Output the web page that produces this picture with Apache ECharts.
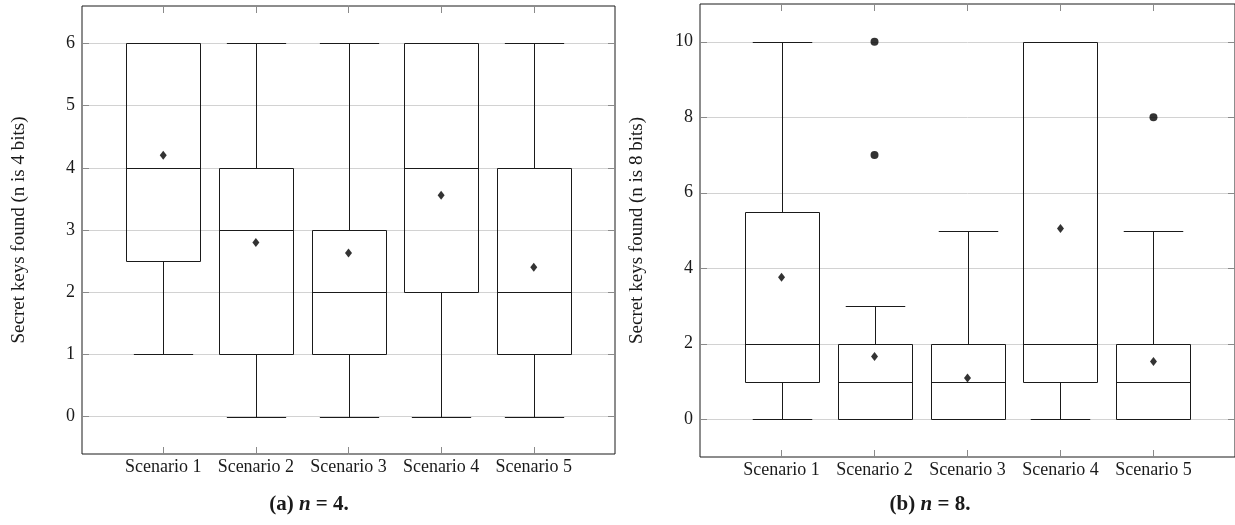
<!DOCTYPE html>
<html><head><meta charset="utf-8">
<script src="https://cdn.jsdelivr.net/npm/echarts@6/dist/echarts.min.js"></script>
<style>html,body{margin:0;padding:0;background:#fff}#c{width:1235px;height:525px}</style>
</head><body><div id="c"></div>
<script>
const categories = ['Scenario 1', 'Scenario 2', 'Scenario 3', 'Scenario 4', 'Scenario 5'];
// Panel (a) n = 4 : [lower whisker, Q1, median, Q3, upper whisker]
const boxA = [[1, 2.5, 4, 6, 6], [0, 1, 3, 4, 6], [0, 1, 2, 3, 6], [0, 2, 4, 6, 6], [0, 1, 2, 4, 6]];
const meanA = [4.2, 2.8, 2.63, 3.56, 2.4];
const outliersA = [[], [], [], [], []];
// Panel (b) n = 8
const boxB = [[0, 1, 2, 5.5, 10], [0, 0, 1, 2, 3], [0, 0, 1, 2, 5], [0, 1, 2, 10, 10], [0, 0, 1, 2, 5]];
const meanB = [3.76, 1.66, 1.09, 5.05, 1.53];
const outliersB = [[], [7, 10], [], [], [8]];
const yTicksA = [0, 1, 2, 3, 4, 5, 6];
const yTicksB = [0, 2, 4, 6, 8, 10];
const yNames = ['Secret keys found (n is 4 bits)', 'Secret keys found (n is 8 bits)'];
const captionLabels = ['(a)', '(b)'];
const captionN = [4, 8];

const FONT = 'Liberation Serif';
const INK = '#1a1a1a';
const xPos = categories.map((c, i) => i + 1);

function renderBox(params, api) {
  const x = api.value(0);
  const lo = api.coord([x, api.value(1)]);
  const q1 = api.coord([x, api.value(2)]);
  const md = api.coord([x, api.value(3)]);
  const q3 = api.coord([x, api.value(4)]);
  const hi = api.coord([x, api.value(5)]);
  const bw = api.size([0.8, 0])[0];
  const cw = api.size([0.64, 0])[0];
  const cx = Math.round(lo[0]) + 0.5;
  const r = v => Math.round(v) + 0.5;
  const st = { stroke: INK, lineWidth: 1, fill: null };
  const bl = Math.round(cx - bw / 2) + 0.5;
  const bwr = Math.round(bw);
  return { type: 'group', children: [
    { type: 'line', shape: { x1: cx, y1: r(q1[1]), x2: cx, y2: r(lo[1]) }, style: st },
    { type: 'line', shape: { x1: cx, y1: r(q3[1]), x2: cx, y2: r(hi[1]) }, style: st },
    { type: 'line', shape: { x1: cx - cw / 2, y1: r(lo[1]), x2: cx + cw / 2, y2: r(lo[1]) }, style: st },
    { type: 'line', shape: { x1: cx - cw / 2, y1: r(hi[1]), x2: cx + cw / 2, y2: r(hi[1]) }, style: st },
    { type: 'rect', shape: { x: bl, y: r(q3[1]), width: bwr, height: r(q1[1]) - r(q3[1]) }, style: { stroke: INK, fill: 'none', lineWidth: 1 } },
    { type: 'line', shape: { x1: bl, y1: r(md[1]), x2: bl + bwr, y2: r(md[1]) }, style: st }
  ]};
}

const grids = [
  { left: 82, top: 6, width: 533, height: 448 },
  { left: 700, top: 4, width: 539, height: 453 }
];
const yRanges = [[-0.6, 6.6], [-1, 11]];
const yTicks = [yTicksA, yTicksB];
const boxes = [boxA, boxB];
const means = [meanA, meanB];
const outs = [outliersA, outliersB];

const option = { animation: false, backgroundColor: '#fff', grid: [], xAxis: [], yAxis: [], series: [], graphic: [] };
const tickStyle = { color: '#8a8a8a', width: 1 };

for (let p = 0; p < 2; p++) {
  option.grid.push(Object.assign({ show: true, borderColor: INK, borderWidth: 1, backgroundColor: 'transparent' }, grids[p]));
  ['bottom', 'top'].forEach((pos, k) => {
    option.xAxis.push({
      type: 'value', gridIndex: p, position: pos, min: 0.123, max: 5.877,
      axisLine: { show: false, onZero: false },
      axisTick: { show: true, inside: true, length: 7, lineStyle: tickStyle, customValues: xPos },
      axisLabel: { show: k === 0, customValues: xPos, formatter: v => categories[Math.round(v) - 1] || '',
        fontFamily: FONT, fontSize: 18, color: INK, margin: 4 },
      splitLine: { show: false }
    });
  });
  ['left', 'right'].forEach((pos, k) => {
    option.yAxis.push({
      type: 'value', gridIndex: p, position: pos, min: yRanges[p][0], max: yRanges[p][1],
      axisLine: { show: false, onZero: false },
      axisTick: { show: true, inside: true, length: 7, lineStyle: tickStyle, customValues: yTicks[p] },
      axisLabel: { show: k === 0, customValues: yTicks[p], fontFamily: FONT, fontSize: 18, color: INK, margin: 7 },
      splitLine: { show: k === 0, lineStyle: { color: '#d2d2d2', width: 1 } },
      name: k === 0 ? yNames[p] : '', nameLocation: 'middle', nameRotate: 90, nameGap: 53,
      nameTextStyle: { fontFamily: FONT, fontSize: 19, color: INK }
    });
  });
  const xi = p * 2, yi = p * 2;
  option.series.push({
    type: 'custom', xAxisIndex: xi, yAxisIndex: yi, renderItem: renderBox,
    encode: { x: 0, y: [1, 2, 3, 4, 5] },
    data: boxes[p].map((b, i) => [i + 1].concat(b)), z: 3
  });
  option.series.push({
    type: 'scatter', xAxisIndex: xi, yAxisIndex: yi, symbol: 'diamond', symbolSize: [7, 9],
    itemStyle: { color: '#000' }, data: means[p].map((m, i) => [i + 1, m]), z: 4
  });
  const pts = [];
  outs[p].forEach((arr, i) => arr.forEach(v => pts.push([i + 1, v])));
  option.series.push({
    type: 'scatter', xAxisIndex: xi, yAxisIndex: yi, symbol: 'circle', symbolSize: 8,
    itemStyle: { color: '#000' }, data: pts, z: 4
  });
}

const capX = [309, 930];
for (let p = 0; p < 2; p++) {
  option.graphic.push({
    type: 'text', x: capX[p], y: 505, z: 10,
    style: {
      text: '{b|' + captionLabels[p] + '} {i|n} {b|= ' + captionN[p] + '.}',
      align: 'center', verticalAlign: 'middle',
      rich: {
        b: { fontFamily: FONT, fontSize: 21, fontWeight: 'bold', fill: INK },
        i: { fontFamily: FONT, fontSize: 21, fontWeight: 'bold', fontStyle: 'italic', fill: INK }
      },
      fontFamily: FONT, fontSize: 21, fill: INK
    }
  });
}

const chart = echarts.init(document.getElementById('c'), null, { renderer: 'canvas' });
chart.setOption(option);
</script>
</body></html>
